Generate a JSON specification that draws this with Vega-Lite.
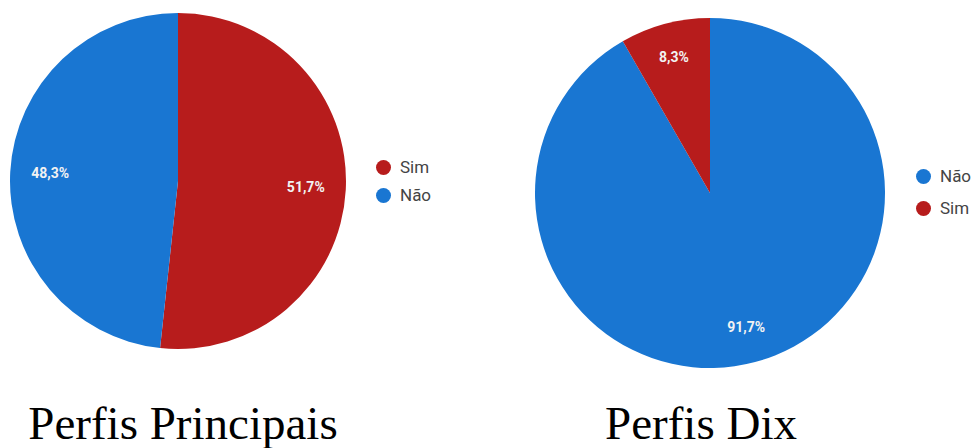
{
  "$schema": "https://vega.github.io/schema/vega-lite/v6.json",
  "padding": 0,
  "autosize": "pad",
  "background": "white",
  "datasets": {
    "principais": [
      {"resposta": "Sim", "pct": 51.7, "rotulo": "51,7%", "ordem": 1},
      {"resposta": "Não", "pct": 48.3, "rotulo": "48,3%", "ordem": 2}
    ],
    "dix": [
      {"resposta": "Não", "pct": 91.7, "rotulo": "91,7%", "ordem": 1},
      {"resposta": "Sim", "pct": 8.3, "rotulo": "8,3%", "ordem": 2}
    ]
  },
  "spacing": 103,
  "hconcat": [
    {
      "width": 356,
      "height": 362,
      "data": {"name": "principais"},
      "title": {"text": "Perfis Principais", "orient": "bottom", "anchor": "middle", "baseline": "alphabetic", "offset": 77, "dx": 5, "font": "Liberation Serif", "fontSize": 47, "fontWeight": "normal", "color": "#000000"},
      "encoding": {
        "theta": {"field": "pct", "type": "quantitative", "stack": true},
        "order": {"field": "ordem", "type": "quantitative"}
      },
      "layer": [
        {
          "mark": {"type": "arc", "outerRadius": 168},
          "encoding": {
            "color": {
              "field": "resposta", "type": "nominal",
              "scale": {"domain": ["Sim", "Não"], "range": ["#B71C1C", "#1976D2"]},
              "legend": {"title": null, "orient": "none", "legendX": 375, "legendY": 159, "symbolType": "circle", "symbolSize": 225, "symbolStrokeWidth": 0, "labelFont": "Roboto", "labelFontSize": 17, "labelColor": "#444444", "labelOffset": 8, "rowPadding": 10, "padding": 0}
            }
          }
        },
        {
          "mark": {"type": "text", "radius": 128, "font": "Roboto", "fontSize": 14, "fontWeight": "bold", "color": "#F2F2F2"},
          "encoding": {"text": {"field": "rotulo", "type": "nominal"}}
        }
      ]
    },
    {
      "width": 350,
      "height": 386,
      "data": {"name": "dix"},
      "title": {"text": "Perfis Dix", "orient": "bottom", "anchor": "middle", "baseline": "alphabetic", "offset": 53, "dx": -9, "font": "Liberation Serif", "fontSize": 47, "fontWeight": "normal", "color": "#000000"},
      "encoding": {
        "theta": {"field": "pct", "type": "quantitative", "stack": true},
        "order": {"field": "ordem", "type": "quantitative"}
      },
      "layer": [
        {
          "mark": {"type": "arc", "outerRadius": 175},
          "encoding": {
            "color": {
              "field": "resposta", "type": "nominal",
              "scale": {"domain": ["Não", "Sim"], "range": ["#1976D2", "#B71C1C"]},
              "legend": {"title": null, "orient": "none", "legendX": 380, "legendY": 168, "symbolType": "circle", "symbolSize": 225, "symbolStrokeWidth": 0, "labelFont": "Roboto", "labelFontSize": 17, "labelColor": "#444444", "labelOffset": 8, "rowPadding": 14, "padding": 0}
            }
          }
        },
        {
          "mark": {"type": "text", "radius": 140, "font": "Roboto", "fontSize": 14, "fontWeight": "bold", "color": "#F2F2F2"},
          "encoding": {"text": {"field": "rotulo", "type": "nominal"}}
        }
      ]
    }
  ],
  "resolve": {"scale": {"color": "independent", "theta": "independent"}, "legend": {"color": "independent"}},
  "config": {"view": {"stroke": null}}
}
